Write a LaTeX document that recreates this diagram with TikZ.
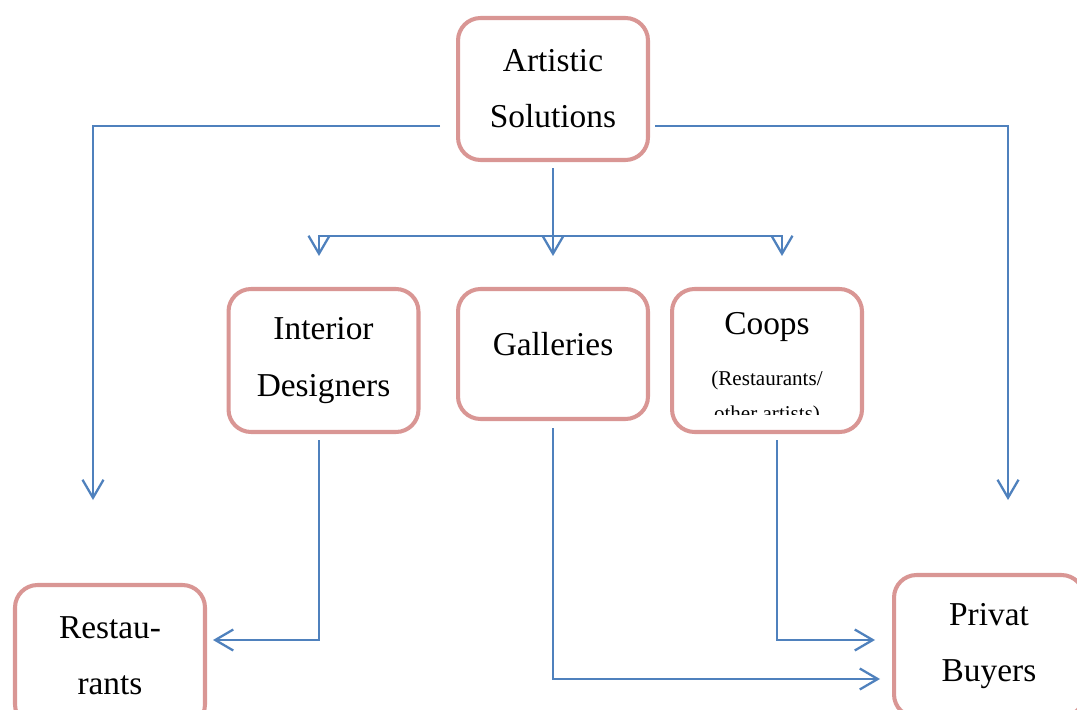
\documentclass[tikz,border=0pt]{standalone}
\usepackage{fontspec}
\setmainfont{Liberation Serif}
\usetikzlibrary{arrows.meta,calc}
\definecolor{boxrose}{RGB}{217,150,148}
\definecolor{arrowblue}{RGB}{79,129,189}
\tikzset{
  orgbox/.style={draw=boxrose,line width=2.3pt,rounded corners=0.45cm,fill=white,minimum width=3.8cm,align=center,font=\fontsize{19}{32}\selectfont},
  arr/.style={draw=arrowblue,line width=1.3pt,-{Straight Barb[length=0.36cm,width=0.42cm]}},
}
\begin{document}
\begin{tikzpicture}[x=0.02cm,y=-0.02cm]
	\clip (0,0) rectangle (1077,709);
	% boxes
	\node[orgbox,minimum height=2.84cm] (art) at (553,89) {Artistic\\Solutions};
	\node[orgbox,minimum height=2.86cm] (int) at (323.5,360.5) {Interior\\Designers};
	\node[orgbox,minimum height=2.6cm] (gal) at (553,354) {\raisebox{0.2cm}[\height][\depth]{Galleries}};
	\node[orgbox,minimum height=2.86cm] (coops) at (767,360.5) {};
	\node[orgbox,minimum height=2.84cm] (rest) at (110,656) {Restau-\\rants};
	\node[orgbox,minimum height=2.84cm] (priv) at (989,646) {Privat\\Buyers};
	% coops text, cut off at the bottom
	\node[font=\fontsize{19}{32}\selectfont] (coopsa) at (767,327) {Coops};
	\begin{scope}
		\clip (672,289) rectangle (862,414);
		\node[font=\fontsize{12}{20}\selectfont] (coopsb) at (767,380) {(Restaurants/};
		\node[font=\fontsize{12}{20}\selectfont] (coopsc) at (767,415) {other artists)};
	\end{scope}
	% arrows
	\coordinate (lt) at (93,500);
	\coordinate (rt) at (1008,500);
	\coordinate (split) at (553,236);
	\coordinate (ltip) at (319,256);
	\coordinate (mtip) at (553,256);
	\coordinate (rtip) at (782,256);
	\draw[arr,shorten <=0.32cm] (art.west |- 0,126) -| (lt);
	\draw[arr,shorten <=0.1cm] (art.east |- 0,126) -| (rt);
	\draw[arr,shorten <=0.12cm] (art.south) -- (mtip);
	\draw[arr] (split) -| (ltip);
	\draw[arr] (split) -| (rtip);
	\draw[arr,shorten <=0.12cm,shorten >=0.12cm] (ltip |- int.south) |- (rest.east |- 0,640);
	\draw[arr,shorten <=0.14cm,shorten >=0.24cm] (gal.south) |- (priv.west |- 0,679);
	\draw[arr,shorten <=0.12cm,shorten >=0.34cm] ($(coops.south)+(10,0)$) |- (priv.west |- 0,640);
\end{tikzpicture}
\end{document}
